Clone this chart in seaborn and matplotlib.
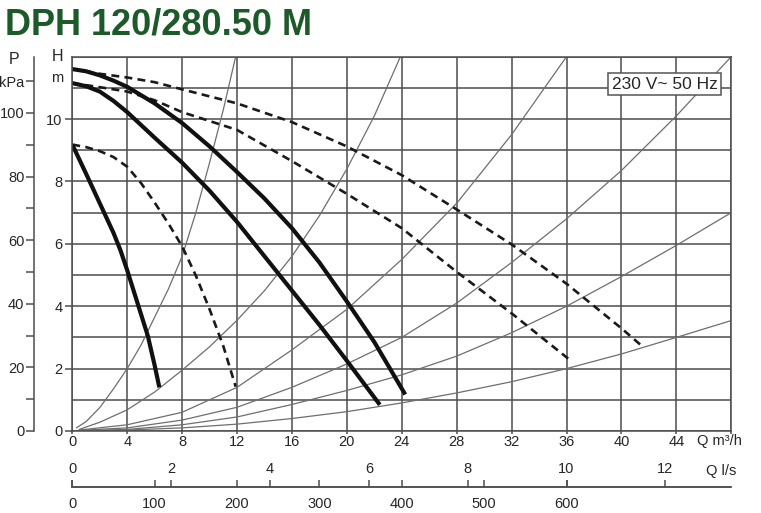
import matplotlib
matplotlib.use("Agg")
import matplotlib.pyplot as plt
from matplotlib import font_manager
import seaborn as sns

# --- pump curves (Q in m3/h, H in m) ---
q_solid_top = [0, 1, 2, 3, 4, 6, 8, 10, 12, 14, 16, 18, 20, 22, 24.25]
h_solid_top = [11.6, 11.53, 11.4, 11.23, 11.03, 10.5, 9.87, 9.12, 8.3, 7.45, 6.5, 5.4, 4.15, 2.85, 1.17]

q_solid_mid = [0, 1, 2, 3, 4, 6, 8, 10, 12, 14, 16, 18, 20, 22.4]
h_solid_mid = [11.15, 11.05, 10.88, 10.58, 10.22, 9.4, 8.6, 7.7, 6.7, 5.6, 4.5, 3.4, 2.25, 0.84]

q_solid_low = [0, 1, 2, 3, 3.5, 4, 4.5, 5, 5.5, 6, 6.34]
h_solid_low = [9.18, 8.25, 7.3, 6.35, 5.8, 5.15, 4.45, 3.75, 3.05, 2.1, 1.4]

q_dash_top = [0, 2, 4, 6, 8, 12, 16, 20, 24, 28, 32, 36, 40, 41.5]
h_dash_top = [11.6, 11.45, 11.33, 11.18, 10.95, 10.5, 9.9, 9.12, 8.2, 7.1, 5.98, 4.72, 3.29, 2.72]

q_dash_mid = [0, 2, 4, 6, 8, 12, 16, 20, 24, 28, 32, 36.26]
h_dash_mid = [11.15, 11.02, 10.88, 10.6, 10.22, 9.65, 8.65, 7.6, 6.5, 5.1, 3.77, 2.27]

q_dash_low = [0, 1, 2, 3, 4, 5, 6, 7, 8, 9, 10, 11, 11.9]
h_dash_low = [9.18, 9.1, 8.97, 8.78, 8.47, 7.95, 7.32, 6.65, 5.92, 4.98, 3.9, 2.72, 1.42]

# --- system (resistance) curves ---
q_sys_1 = [0.3, 1, 2, 3, 4, 5, 6, 7, 8, 9, 10, 11, 11.9]
h_sys_1 = [0.1, 0.3, 0.75, 1.35, 2.0, 2.75, 3.65, 4.55, 5.6, 7.0, 8.6, 10.3, 12.0]

q_sys_2 = [0.5, 2, 4, 6, 8, 10, 12, 14, 16, 18, 20, 22, 23.9]
h_sys_2 = [0.05, 0.28, 0.68, 1.25, 1.95, 2.7, 3.55, 4.5, 5.6, 6.9, 8.4, 10.1, 12.0]

q_sys_3 = [0.5, 4, 8, 12, 16, 20, 24, 28, 32, 36]
h_sys_3 = [0.03, 0.2, 0.6, 1.4, 2.6, 3.9, 5.5, 7.3, 9.5, 12.0]

q_sys_4 = [0.5, 4, 8, 12, 16, 20, 24, 28, 32, 36, 40, 44, 48]
h_sys_4 = [0.02, 0.1, 0.35, 0.76, 1.4, 2.15, 3.0, 4.1, 5.4, 6.8, 8.35, 10.1, 12.0]

q_sys_5 = [0.5, 4, 8, 12, 16, 20, 24, 28, 32, 36, 40, 44, 48]
h_sys_5 = [0.01, 0.05, 0.2, 0.45, 0.85, 1.3, 1.8, 2.4, 3.15, 4.0, 4.95, 5.95, 7.0]

q_sys_6 = [0.5, 4, 8, 12, 16, 20, 24, 28, 32, 36, 40, 44, 48]
h_sys_6 = [0.0, 0.03, 0.1, 0.22, 0.4, 0.62, 0.9, 1.22, 1.58, 2.0, 2.47, 3.0, 3.54]

# axis ticks
q_ticks = list(range(0, 49, 4))
h_ticks = list(range(0, 11, 2))
p_ticks = list(range(0, 111, 10))
ls_ticks = list(range(0, 13, 2))
lmin_ticks = list(range(0, 601, 100))

title = "DPH 120/280.50 M"
supply = "230 V~ 50 Hz"

sns.set_theme(style="white")
installed = {f.name for f in font_manager.fontManager.ttflist}
narrow = "Liberation Sans Narrow" if "Liberation Sans Narrow" in installed else "Liberation Sans"
fs = 12 if narrow == "Liberation Sans Narrow" else 10.5
box_fs = 15 if narrow == "Liberation Sans Narrow" else 12.5
plt.rcParams["font.family"] = [narrow, "DejaVu Sans"]

W, H = 761, 513
grid_col = "#4d4d4d"
fig = plt.figure(figsize=(W / 100, H / 100), dpi=100)
ax = fig.add_axes([72.3 / W, 1 - 431 / H, (731.3 - 72.3) / W, (431 - 56.6) / H])

# system curves
for q, h in [(q_sys_1, h_sys_1), (q_sys_2, h_sys_2), (q_sys_3, h_sys_3),
             (q_sys_4, h_sys_4), (q_sys_5, h_sys_5), (q_sys_6, h_sys_6)]:
    sns.lineplot(x=q, y=h, ax=ax, color="#6e6e6e", lw=0.9, sort=False, estimator=None)

# dashed pump curves
for q, h in [(q_dash_top, h_dash_top), (q_dash_mid, h_dash_mid), (q_dash_low, h_dash_low)]:
    sns.lineplot(x=q, y=h, ax=ax, color="#1a1a1a", lw=1.9, dashes=(3, 2),
                 sort=False, estimator=None)

# solid pump curves
for q, h in [(q_solid_top, h_solid_top), (q_solid_mid, h_solid_mid), (q_solid_low, h_solid_low)]:
    sns.lineplot(x=q, y=h, ax=ax, color="#111111", lw=3.0, sort=False, estimator=None,
                 solid_capstyle="butt", solid_joinstyle="round")

ax.set_xlim(0, 48)
ax.set_ylim(0, 12)
ax.set_xticks(q_ticks)
ax.set_xticklabels([str(v) for v in q_ticks[:-1]] + [""])
ax.set_yticks(h_ticks)
ax.set_yticks(range(0, 13), minor=True)
ax.grid(True, which="both", color=grid_col, lw=1.1)
ax.grid(False, which="minor", axis="x")
ax.tick_params(axis="y", which="major", length=5, width=1.1, color=grid_col,
               labelsize=fs, pad=2, direction="out", left=True)
ax.tick_params(axis="x", which="major", length=2, width=1.1, color=grid_col,
               labelsize=fs, pad=1, direction="out", bottom=True)
ax.tick_params(axis="y", which="minor", length=0)
for s in ax.spines.values():
    s.set_color(grid_col)
    s.set_linewidth(1.1)
ax.set_xlabel("")
ax.set_ylabel("")

ax.text(-0.023, 12, "H", transform=ax.get_yaxis_transform(), ha="center", va="center", fontsize=fs + 1)
ax.text(-0.023, 11.3, "m", transform=ax.get_yaxis_transform(), ha="center", va="center", fontsize=fs)

# pressure axis
sec = ax.secondary_yaxis(-0.058, functions=(lambda h: h * 9.81, lambda p: p / 9.81))
sec.set_yticks(p_ticks)
sec.set_yticklabels([str(v) if v % 20 == 0 else "" for v in p_ticks[:-1]] + ["kPa"])
sec.tick_params(length=6, width=1.1, color=grid_col, labelsize=fs, pad=1)
sec.spines["left"].set_color(grid_col)
sec.spines["left"].set_linewidth(1.1)
fig.text(14 / W, 1 - 60 / H, "P", ha="center", va="center", fontsize=fs + 1)

# supply box
ax.text(43.15, 11.12, supply, ha="center", va="center", fontsize=box_fs, zorder=5,
        bbox=dict(boxstyle="square,pad=0.2", fc="white", ec="#555555", lw=1.1))

fig.text(697 / W, 1 - 441 / H, "Q m³/h", ha="left", va="center", fontsize=fs)

# flow scales in l/s and l/min
ax_q = fig.add_axes([72.3 / W, 1 - 487 / H, (731.3 - 72.3) / W, 0.0001])
ax_q.set_xlim(0, 48 / 3.6)
ax_q.set_yticks([])
ax_q.set_facecolor("none")
for side in ["left", "right", "top"]:
    ax_q.spines[side].set_visible(False)
ax_q.spines["bottom"].set_color(grid_col)
ax_q.spines["bottom"].set_linewidth(1.1)
ax_q.set_xticks(ls_ticks)
ax_q.xaxis.tick_top()
ax_q.tick_params(axis="x", length=5, width=1.1, color=grid_col, labelsize=fs, pad=3, direction="out")

sec_x = ax_q.secondary_xaxis("bottom", functions=(lambda v: v * 60, lambda v: v / 60))
sec_x.set_xticks(lmin_ticks)
sec_x.tick_params(length=5, width=1.1, color=grid_col, labelsize=fs, pad=7, direction="in")
sec_x.spines["bottom"].set_color(grid_col)
sec_x.spines["bottom"].set_linewidth(1.1)

fig.text(706 / W, 1 - 471 / H, "Q l/s", ha="left", va="center", fontsize=fs)

fig.text(5 / W, 1 - 35 / H, title, ha="left", va="baseline", fontsize=26,
         fontweight="bold", color="#1c5a2a", family="Liberation Sans")

fig.savefig("out.png", dpi=100, facecolor="white")
